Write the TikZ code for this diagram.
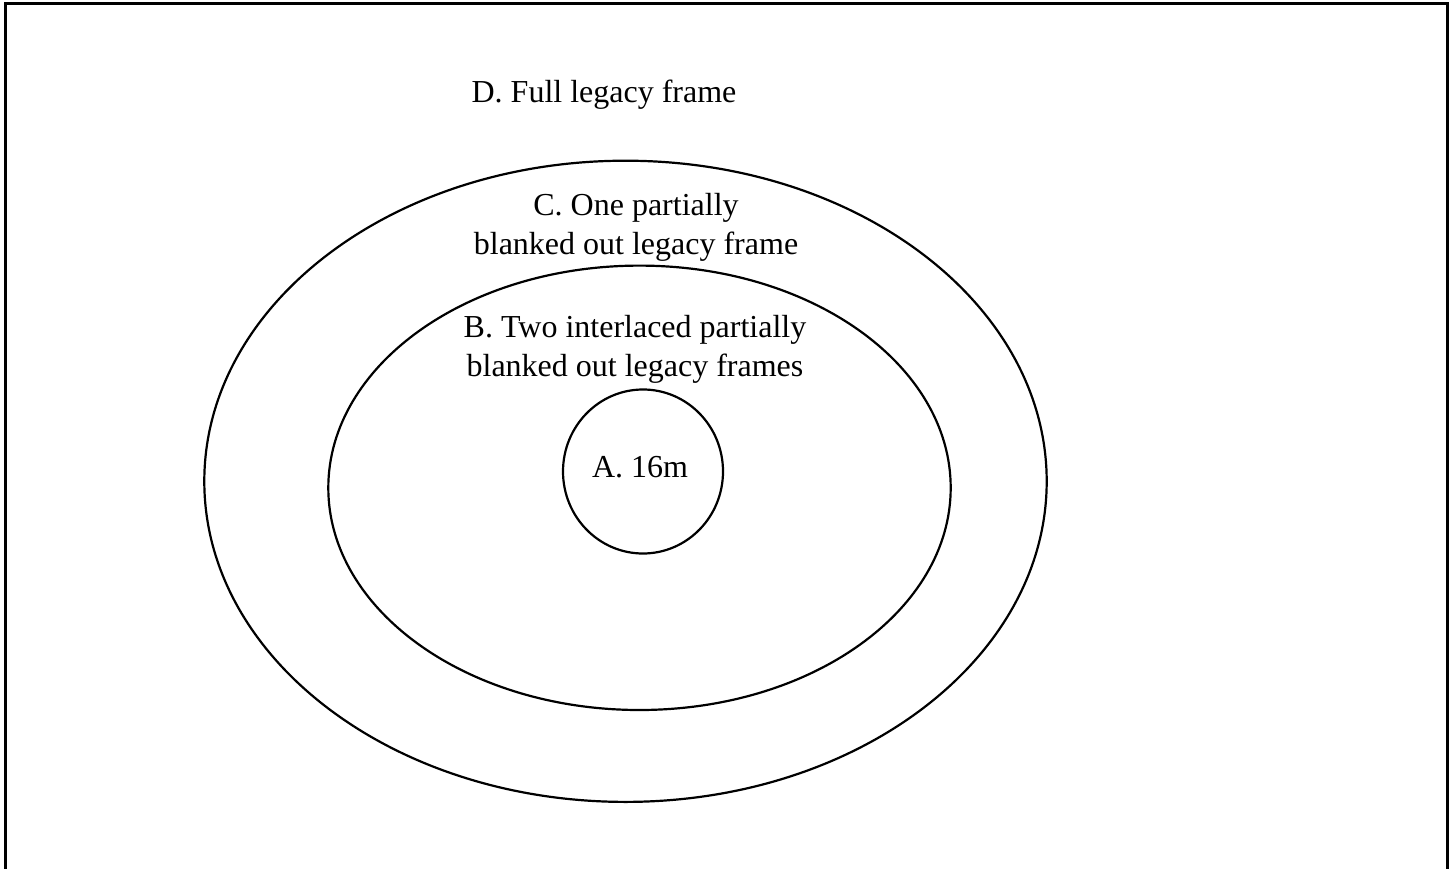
\documentclass[tikz,border=0pt]{standalone}
\usepackage{fontspec}
\setmainfont{Liberation Serif}
\usetikzlibrary{shapes.geometric}
\begin{document}
\begin{tikzpicture}[x=1pt,y=-1pt,
  ring/.style={draw=black, line width=2.2pt, ellipse, inner sep=0pt},
  lbl/.style={align=center, inner sep=0pt, anchor=base, font=\fontsize{32}{38.5}\selectfont}]
\useasboundingbox (0,0) rectangle (1455,869);
\fill[white] (0,0) rectangle (1455,869);
\coordinate (bl) at (5,875);
\coordinate (tl) at (5,4);
\coordinate (tr) at (1447,4);
\coordinate (br) at (1447,875);
\draw[line width=3pt] (bl) -- (tl) -- (tr) -- (br);
\node[ring, minimum width=842.4pt, minimum height=641.2pt] (C) at (625.5,481.3) {};
\node[ring, minimum width=622.4pt, minimum height=444.4pt] (B) at (639.5,487.8) {};
\node[ring, minimum width=160pt, minimum height=164pt] (A) at (643,471.5) {};
\node[lbl] (tD) at (604,103) {D. Full legacy frame};
\node[lbl] (tC) at (636,254) {C. One partially\\blanked out legacy frame};
\node[lbl] (tB) at (635,376) {B. Two interlaced partially\\blanked out legacy frames};
\node[lbl] (tA) at (640,477) {A. 16m};
\end{tikzpicture}
\end{document}
